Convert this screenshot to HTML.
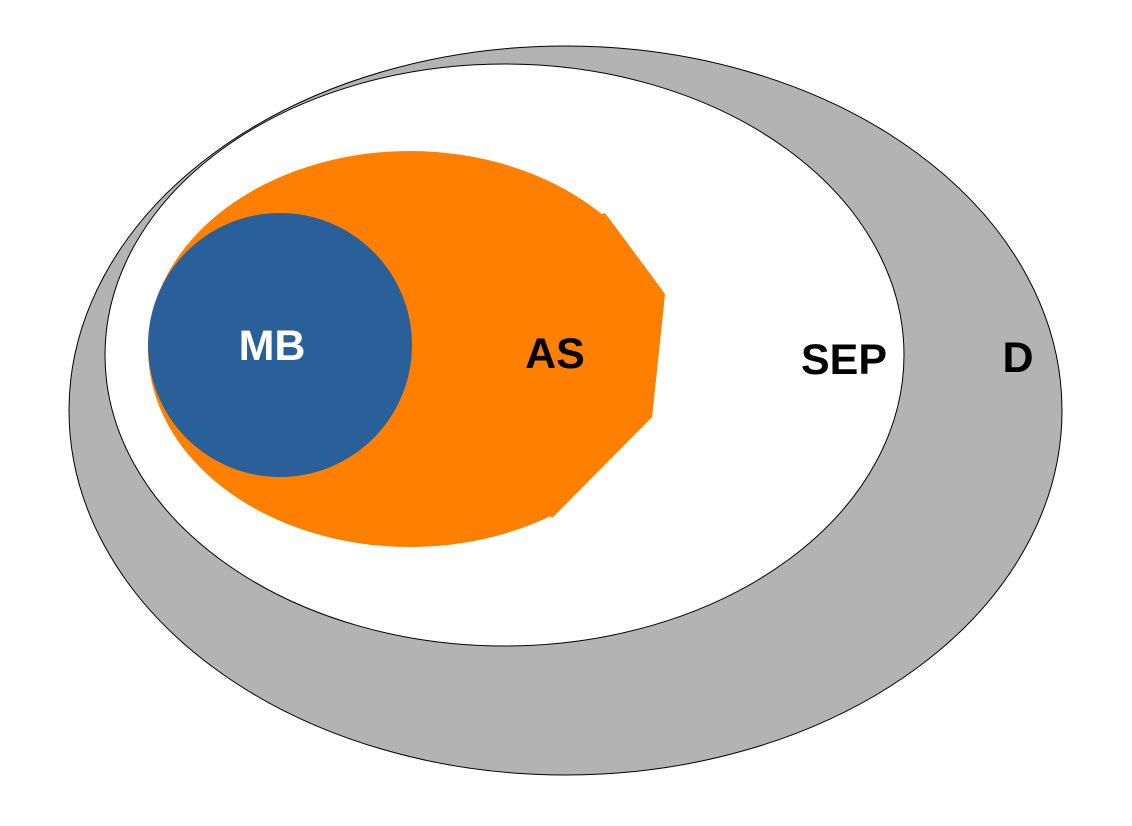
<!DOCTYPE html>
<html><head><style>html,body{margin:0;padding:0;background:#fff}svg{display:block}</style></head>
<body>
<svg width="1132" height="826" viewBox="0 0 1132 826" xmlns="http://www.w3.org/2000/svg">
<defs><clipPath id="c"><polygon points="0,0 605,0 605,213 665,294 652,417 552,518 552,826 0,826"/></clipPath></defs>
<ellipse cx="565.5" cy="410.5" rx="496.5" ry="364.5" fill="#b3b3b3" stroke="#000" stroke-width="1"/>
<ellipse cx="504.5" cy="355" rx="399.5" ry="291" fill="#fff" stroke="#000" stroke-width="1"/>
<ellipse cx="410" cy="349" rx="262" ry="198" fill="#ff8000" clip-path="url(#c)"/>
<polygon points="540,300 600,215 605,213 665,294 652,417 552,518 548,514 520,400" fill="#ff8000"/>
<circle cx="280" cy="345" r="132" fill="#2a6099"/>
<g font-family="Liberation Sans, sans-serif" font-weight="bold" font-size="43" text-anchor="middle" dominant-baseline="central">
<text x="272" y="346" fill="#fff">MB</text>
<text x="555" y="354" fill="#000">AS</text>
<text x="844" y="360" fill="#000">SEP</text>
<text x="1018" y="358" fill="#000">D</text>
</g>
</svg>
</body></html>
